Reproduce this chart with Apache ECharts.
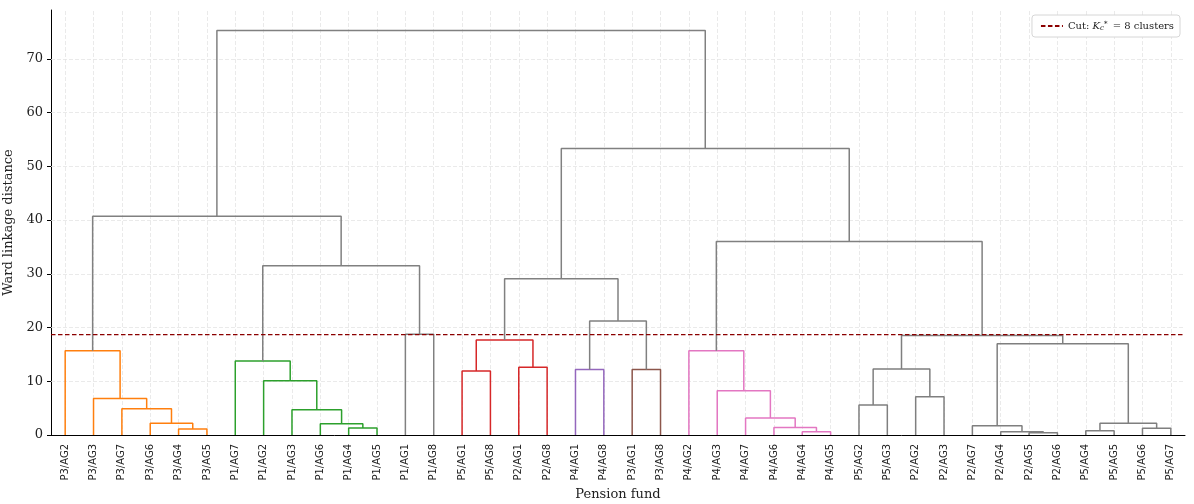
<!DOCTYPE html>
<html>
<head>
<meta charset="utf-8">
<script src="https://cdn.jsdelivr.net/npm/echarts@6/dist/echarts.min.js"></script>
<style>
html, body { margin: 0; padding: 0; background: #fff; }
#chart { width: 1194px; height: 504px; }
</style>
</head>
<body>
<div id="chart"></div>
<script>
var leafLabels = [
    'P3/AG2', 'P3/AG3', 'P3/AG7', 'P3/AG6', 'P3/AG4', 'P3/AG5',
    'P1/AG7', 'P1/AG2', 'P1/AG3', 'P1/AG6', 'P1/AG4', 'P1/AG5',
    'P1/AG1', 'P1/AG8', 'P5/AG1', 'P5/AG8', 'P2/AG1', 'P2/AG8',
    'P4/AG1', 'P4/AG8', 'P3/AG1', 'P3/AG8', 'P4/AG2', 'P4/AG3',
    'P4/AG7', 'P4/AG6', 'P4/AG4', 'P4/AG5', 'P5/AG2', 'P5/AG3',
    'P2/AG2', 'P2/AG3', 'P2/AG7', 'P2/AG4', 'P2/AG5', 'P2/AG6',
    'P5/AG4', 'P5/AG5', 'P5/AG6', 'P5/AG7'
];

// linkage rows: [left id, right id, height]; ids < 40 are leaves,
// id 40 + k is the cluster made by row k
var merges = [
    [4, 5, 1.1], [3, 40, 2.2], [2, 41, 4.9], [1, 42, 6.8], [0, 43, 15.7],
    [10, 11, 1.3], [9, 45, 2.1], [8, 46, 4.7], [7, 47, 10.1], [6, 48, 13.75],
    [12, 13, 18.75], [49, 50, 31.5], [44, 51, 40.7],
    [14, 15, 11.9], [16, 17, 12.6], [53, 54, 17.7],
    [18, 19, 12.2], [20, 21, 12.2], [56, 57, 21.2], [55, 58, 29.1],
    [26, 27, 0.6], [25, 60, 1.4], [24, 61, 3.15], [23, 62, 8.25], [22, 63, 15.7],
    [28, 29, 5.6], [30, 31, 7.1], [65, 66, 12.3],
    [34, 35, 0.4], [33, 68, 0.6], [32, 69, 1.7],
    [36, 37, 0.8], [38, 39, 1.25], [71, 72, 2.2], [70, 73, 17.0], [67, 74, 18.5],
    [64, 75, 36.0], [59, 76, 53.3], [52, 77, 75.3]
];

var mergeColors = [
    'C1', 'C1', 'C1', 'C1', 'C1',
    'C2', 'C2', 'C2', 'C2', 'C2',
    'C0', 'C0', 'C0',
    'C3', 'C3', 'C3',
    'C4', 'C5', 'C0', 'C0',
    'C6', 'C6', 'C6', 'C6', 'C6',
    'C7', 'C7', 'C7',
    'C7', 'C7', 'C7',
    'C7', 'C7', 'C7', 'C7', 'C7',
    'C0', 'C0', 'C0'
];

var yTicks = [0, 10, 20, 30, 40, 50, 60, 70];
var cutHeight = 18.7;
var yMax = 79.1;

var palette = {
    C0: '#808080', C1: '#ff7f0e', C2: '#2ca02c', C3: '#d62728',
    C4: '#9467bd', C5: '#8c564b', C6: '#e377c2', C7: '#7f7f7f'
};
var serif = 'DejaVu Serif';

// leaf x positions like scipy: 5, 15, 25, ...
var n = leafLabels.length;
var nodeX = [], nodeH = [];
for (var i = 0; i < n; i++) {
    nodeX[i] = 5 + 10 * i;
    nodeH[i] = 0;
}
merges.forEach(function (m, k) {
    nodeX[n + k] = (nodeX[m[0]] + nodeX[m[1]]) / 2;
    nodeH[n + k] = m[2];
});

var series = [];

// light dashed grid lines behind everything
var gridLineStyle = { color: '#e4e4e4', width: 0.8, type: [4, 2] };
series.push({
    type: 'line',
    xAxisIndex: 1,
    data: [],
    silent: true,
    z: 1,
    markLine: {
        silent: true,
        z: 1,
        symbol: 'none',
        label: { show: false },
        lineStyle: gridLineStyle,
        animation: false,
        data: nodeX.slice(0, n).map(function (x) { return { xAxis: x }; })
            .concat(yTicks.slice(1).map(function (y) { return { yAxis: y }; }))
    }
});

// one U-shaped link per merge
merges.forEach(function (m, k) {
    var h = m[2];
    series.push({
        type: 'line',
        xAxisIndex: 1,
        silent: true,
        symbol: 'none',
        z: 10,
        lineStyle: { color: palette[mergeColors[k]], width: 1.5 },
        data: [
            [nodeX[m[0]], nodeH[m[0]]],
            [nodeX[m[0]], h],
            [nodeX[m[1]], h],
            [nodeX[m[1]], nodeH[m[1]]]
        ]
    });
});

series.push({
    name: 'cut',
    type: 'line',
    xAxisIndex: 1,
    silent: true,
    symbol: 'none',
    z: 12,
    itemStyle: { color: '#8b0000' },
    lineStyle: { color: '#8b0000', width: 1.3, type: [4.5, 2.5] },
    data: [[0, cutHeight], [10 * n, cutHeight]]
});

var chart = echarts.init(document.getElementById('chart'));
chart.setOption({
    animation: false,
    grid: { left: 51, right: 9, top: 10, bottom: 69, containLabel: false, outerBoundsMode: 'none' },
    legend: {
        data: ['cut'],
        right: 14,
        top: 15,
        padding: [6, 6, 5, 8],
        backgroundColor: '#fff',
        borderColor: '#d6d6d6',
        borderWidth: 1,
        borderRadius: 3,
        itemWidth: 22,
        itemHeight: 10,
        itemStyle: { opacity: 0 },
        formatter: function () {
            return 'Cut: {it|K}{sub|c}{sup|*} = 8 clusters';
        },
        textStyle: {
            fontFamily: serif,
            fontSize: 10,
            color: '#222',
            rich: {
                it: { fontFamily: serif, fontStyle: 'italic', fontSize: 10, color: '#222' },
                sub: { fontFamily: serif, fontStyle: 'italic', fontSize: 7, color: '#222', padding: [5, 0, 0, 0] },
                sup: { fontFamily: serif, fontSize: 7, color: '#222', padding: [0, 2, 3, 0] }
            }
        }
    },
    xAxis: [{
        type: 'category',
        data: leafLabels,
        boundaryGap: true,
        position: 'bottom',
        axisLine: { lineStyle: { color: '#000', width: 1 } },
        axisTick: { show: false },
        axisLabel: {
            rotate: 90,
            interval: 0,
            margin: 9,
            fontFamily: 'DejaVu Sans',
            fontSize: 10,
            color: '#222'
        },
        splitLine: { show: false },
        name: 'Pension fund',
        nameLocation: 'middle',
        nameGap: 49,
        nameTextStyle: { fontFamily: serif, fontSize: 13, color: '#222' }
    }, {
        type: 'value',
        min: 0,
        max: 10 * n,
        show: false
    }],
    yAxis: {
        type: 'value',
        min: 0,
        max: yMax,
        axisLine: { show: true, lineStyle: { color: '#000', width: 1 } },
        axisTick: { show: true, length: 4, lineStyle: { color: '#000' }, customValues: yTicks },
        axisLabel: { margin: 8, fontFamily: serif, fontSize: 13, color: '#222', customValues: yTicks },
        splitLine: { show: false },
        name: 'Ward linkage distance',
        nameLocation: 'middle',
        nameGap: 31,
        nameTextStyle: { fontFamily: serif, fontSize: 13, color: '#222' }
    },
    series: series
});
</script>
</body>
</html>
